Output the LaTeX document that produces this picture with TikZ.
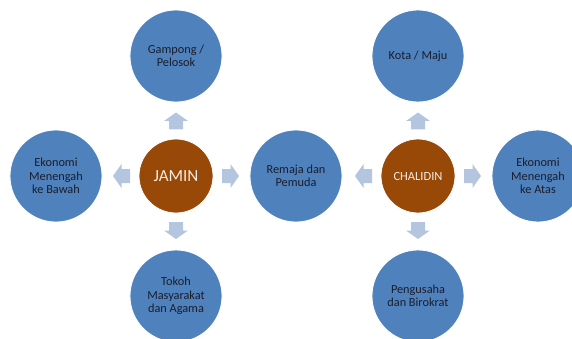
\documentclass[tikz,border=0pt]{standalone}
\usepackage{fontspec}
\setmainfont{Carlito}
\definecolor{bluec}{HTML}{4F81BD}
\definecolor{brownc}{HTML}{984807}
\definecolor{arrowc}{HTML}{B4C5E0}
\definecolor{darktext}{HTML}{1A1E2C}
\definecolor{lighttext}{HTML}{F6ECE2}
\tikzset{
  bluenode/.style={circle, fill=bluec, draw=white, line width=0.8pt, minimum size=92pt, inner sep=0pt,
    align=center, text=darktext, font=\fontsize{12.3}{13.3}\selectfont},
  brownnode/.style={circle, fill=brownc, draw=white, line width=0.8pt, minimum size=74pt, inner sep=0pt,
    align=center, text=lighttext},
  barrow/.pic={\fill[arrowc] (-8.5,-7) -- (0,-7) -- (0,-12) -- (8.5,0) -- (0,12) -- (0,7) -- (-8.5,7) -- cycle;}
}
\begin{document}
\begin{tikzpicture}[x=1pt,y=-1pt]
\useasboundingbox (0,0) rectangle (572,339);
\clip (0,0) rectangle (572,339);
% left group
\node[bluenode] (gampong) at (176,56) {Gampong /\\Pelosok};
\node[bluenode] (ekbawah) at (56,176) {Ekonomi\\Menengah\\ke Bawah};
\node[bluenode] (remaja) at (296,176) {Remaja dan\\Pemuda};
\node[bluenode] (tokoh) at (176,296) {Tokoh\\Masyarakat\\dan Agama};
\node[brownnode, font=\fontsize{17}{18}\selectfont] (jamin) at (176,176) {JAMIN};
% right group
\node[bluenode] (kota) at (418,56) {Kota / Maju};
\node[bluenode] (ekatas) at (538,176) {Ekonomi\\Menengah\\ke Atas};
\node[bluenode] (pengusaha) at (418,296) {Pengusaha\\dan Birokrat};
\node[brownnode, font=\fontsize{12.5}{13.5}\selectfont] (chalidin) at (418,176) {CHALIDIN};
% arrows
\pic[rotate=90] at (176,121) {barrow};
\pic[rotate=270] at (176,230.5) {barrow};
\pic[rotate=180] at (121.5,176) {barrow};
\pic at (230.5,176) {barrow};
\pic[rotate=90] at (418,121) {barrow};
\pic[rotate=270] at (418,230.5) {barrow};
\pic[rotate=180] at (363.5,176) {barrow};
\pic at (472.5,176) {barrow};
\end{tikzpicture}
\end{document}
